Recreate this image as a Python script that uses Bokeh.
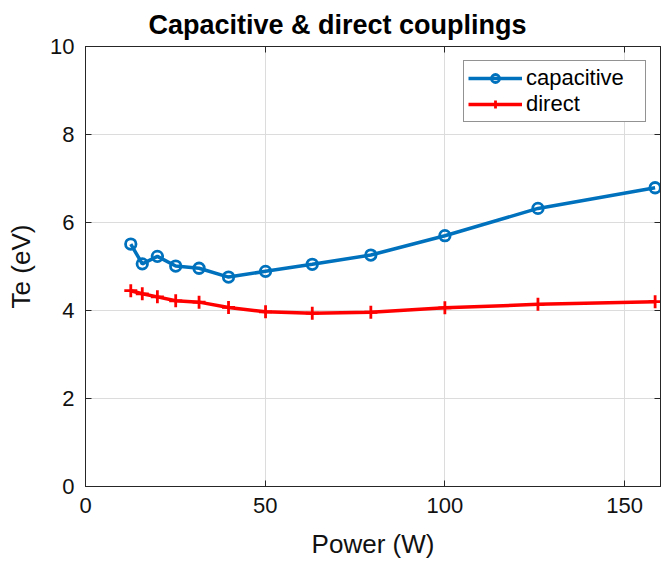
from bokeh.plotting import figure
from bokeh.models import (LinearAxis, FixedTicker, Range1d, Legend, LegendItem,
                          CustomLabelingPolicy)
from bokeh.embed import file_html
from bokeh.resources import INLINE

# ---- data ----
power = [12.6, 15.8, 20.0, 25.1, 31.6, 39.8, 50.1, 63.1, 79.4, 100.0, 125.9, 158.5]
te_capacitive = [5.51, 5.06, 5.23, 5.01, 4.96, 4.76, 4.89, 5.05, 5.26, 5.70, 6.32, 6.79]
te_direct = [4.45, 4.38, 4.31, 4.22, 4.19, 4.07, 3.97, 3.94, 3.96, 4.06, 4.14, 4.20]
x_ticks = [0, 50, 100, 150]
y_ticks = [0, 2, 4, 6, 8, 10]
series_names = ["capacitive", "direct"]
title_text = "Capacitive & direct couplings"
x_label = "Power (W)"
y_label = "Te (eV)"

BLUE = "#0072BD"
RED = "#FF0000"
AX = "#262626"
FONT = "Liberation Sans"

p = figure(width=662, height=561, output_backend="svg", toolbar_location=None,
           x_range=Range1d(0, 160), y_range=Range1d(0, 10),
           min_border_left=85, min_border_right=2, min_border_top=45,
           min_border_bottom=74, title=title_text)

p.title.text_font = FONT
p.title.text_font_size = "27px"
p.title.text_font_style = "bold"
p.title.align = "left"
p.title.offset = 63
p.title.standoff = 14
p.title.text_color = "#000000"

p.background_fill_color = "white"
p.border_fill_color = "white"
p.outline_line_color = AX
p.outline_line_width = 1

for ax, ticks in ((p.xaxis[0], x_ticks), (p.yaxis[0], y_ticks)):
    ax.ticker = FixedTicker(ticks=ticks)
    ax.major_tick_in = 6
    ax.major_tick_out = 0
    ax.minor_tick_in = 0
    ax.minor_tick_out = 0
    ax.axis_line_color = AX
    ax.major_tick_line_color = AX
    ax.major_label_text_font = FONT
    ax.major_label_text_font_size = "22px"
    ax.major_label_text_color = "#111111"
    ax.axis_label_text_font = FONT
    ax.axis_label_text_font_size = "26px"
    ax.axis_label_text_font_style = "normal"
    ax.axis_label_text_color = "#111111"

p.xaxis.axis_label = x_label
p.yaxis.axis_label = y_label
p.xaxis.major_label_standoff = 11
p.yaxis.major_label_standoff = 11
p.xaxis.axis_label_standoff = 13
p.yaxis.axis_label_standoff = 11

no_labels = CustomLabelingPolicy(code="""
const n = indices.size;
for (let i = 0; i < n; i++) { indices.unset(i); }
return indices;
""")

for loc, ticks in (("right", y_ticks), ("above", x_ticks)):
    a = LinearAxis(ticker=FixedTicker(ticks=ticks), major_tick_in=6, major_tick_out=0,
                   minor_tick_in=0, minor_tick_out=0, major_label_text_font_size="0px",
                   major_label_standoff=0, axis_line_color=AX, major_tick_line_color=AX,
                   major_label_policy=no_labels)
    p.add_layout(a, loc)

p.xgrid.ticker = FixedTicker(ticks=x_ticks)
p.ygrid.ticker = FixedTicker(ticks=y_ticks)
p.grid.grid_line_color = "#dcdcdc"
p.grid.grid_line_width = 1

l1 = p.line(power, te_capacitive, line_color=BLUE, line_width=3.5)
m1 = p.scatter(power, te_capacitive, marker="circle", size=10.5, fill_color=None,
               line_color=BLUE, line_width=2.8)
l2 = p.line(power, te_direct, line_color=RED, line_width=3.5)
m2 = p.scatter(power, te_direct, marker="cross", size=13, line_color=RED, line_width=2.8)

legend = Legend(items=[LegendItem(label=series_names[0], renderers=[l1, m1]),
                       LegendItem(label=series_names[1], renderers=[l2, m2])],
                location="top_right")
legend.label_text_font = FONT
legend.label_text_font_size = "22px"
legend.label_text_color = "#000000"
legend.glyph_width = 54
legend.glyph_height = 20
legend.label_height = 20
legend.label_width = 115
legend.label_standoff = 4
legend.spacing = 0
legend.padding = 4
legend.margin = 14
legend.border_line_color = AX
legend.border_line_width = 1
legend.background_fill_color = "white"
legend.background_fill_alpha = 1
p.add_layout(legend)

open("out.html", "w").write(file_html(p, INLINE))
